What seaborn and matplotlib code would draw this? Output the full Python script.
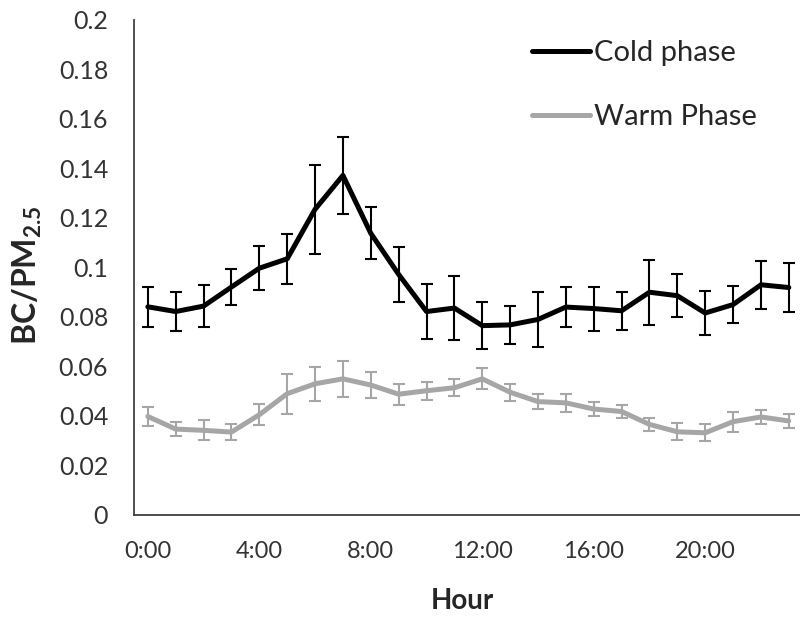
import matplotlib
matplotlib.use("Agg")
import matplotlib.pyplot as plt
import matplotlib.ticker as mticker
import numpy as np
import pandas as pd
import seaborn as sns

# hourly BC/PM2.5 ratio (mean and half-width of error bar)
hours = list(range(24))
cold_mean = [0.0841, 0.0822, 0.0844, 0.0921, 0.0997, 0.1035, 0.1235, 0.1372,
             0.1138, 0.0972, 0.0822, 0.0836, 0.0765, 0.0768, 0.0790, 0.0840,
             0.0834, 0.0825, 0.0900, 0.0886, 0.0816, 0.0850, 0.0930, 0.0919]
cold_err = [0.0080, 0.0077, 0.0084, 0.0073, 0.0088, 0.0102, 0.0180, 0.0157,
            0.0105, 0.0110, 0.0113, 0.0130, 0.0094, 0.0078, 0.0110, 0.0081,
            0.0089, 0.0076, 0.0132, 0.0087, 0.0090, 0.0075, 0.0096, 0.0098]
warm_mean = [0.0398, 0.0347, 0.0342, 0.0335, 0.0405, 0.0490, 0.0530, 0.0550,
             0.0525, 0.0488, 0.0502, 0.0514, 0.0550, 0.0496, 0.0458, 0.0453,
             0.0428, 0.0418, 0.0366, 0.0336, 0.0332, 0.0377, 0.0396, 0.0380]
warm_err = [0.0040, 0.0027, 0.0040, 0.0033, 0.0042, 0.0080, 0.0069, 0.0074,
            0.0054, 0.0042, 0.0037, 0.0034, 0.0043, 0.0035, 0.0030, 0.0035,
            0.0030, 0.0026, 0.0025, 0.0034, 0.0034, 0.0040, 0.0030, 0.0030]
phase_names = ["Cold phase", "Warm Phase"]
phase_colors = ["#000000", "#a6a6a6"]
hour_labels = ["0:00", "4:00", "8:00", "12:00", "16:00", "20:00"]
hour_label_pos = [0, 4, 8, 12, 16, 20]
y_ticks = [0, 0.02, 0.04, 0.06, 0.08, 0.1, 0.12, 0.14, 0.16, 0.18, 0.2]

sns.set_style("white")
plt.rcParams["font.family"] = ["Lato", "DejaVu Sans"]

df = pd.DataFrame({
    "hour": hours * 2,
    "ratio": cold_mean + warm_mean,
    "phase": [phase_names[0]] * 24 + [phase_names[1]] * 24,
})

fig = plt.figure(figsize=(8, 6.18), dpi=100)
ax = fig.add_axes([0.1674, 0.1667, 0.8360, 0.8010])

sns.lineplot(data=df, x="hour", y="ratio", hue="phase", hue_order=phase_names,
             palette=phase_colors, linewidth=3.6, ax=ax, legend=True)
for line in ax.get_lines():
    line.set_solid_joinstyle("round")
    line.set_solid_capstyle("round")

for mean, err, col in [(cold_mean, cold_err, phase_colors[0]),
                       (warm_mean, warm_err, phase_colors[1])]:
    ax.errorbar(hours, mean, yerr=err, fmt="none", ecolor=col,
                elinewidth=1.5, capsize=4.3, capthick=1.5, zorder=3)

ax.set_xlim(-0.5, 23.5)
ax.set_ylim(0, 0.2)
ax.set_xticks(hour_label_pos)
ax.set_xticklabels(hour_labels)
ax.xaxis.set_minor_locator(mticker.FixedLocator(np.arange(-0.5, 24, 1)))
ax.tick_params(axis="x", which="major", length=0, pad=18.5,
               labelsize=17, labelcolor="#333333")
ax.tick_params(axis="x", which="minor", length=7, width=1.1,
               color="#404040", direction="out")
ax.set_yticks(y_ticks)
ax.yaxis.set_major_formatter(mticker.FuncFormatter(lambda v, p: f"{v:g}"))
ax.tick_params(axis="y", length=7.5, width=1.1, color="#404040",
               direction="out", pad=11, labelsize=18, labelcolor="#333333")

sns.despine(ax=ax)
for side in ["left", "bottom"]:
    ax.spines[side].set_color("#404040")
    ax.spines[side].set_linewidth(1.3)

ax.set_xlabel("Hour", fontsize=20, fontweight="bold", va="center")
ax.xaxis.set_label_coords(0.4906, -0.173)
ax.set_ylabel("BC/PM$_{\\mathregular{2.5}}$", fontsize=23,
              fontweight="bold", va="center")
ax.yaxis.set_label_coords(-0.160, 0.485)

handles, labels = ax.get_legend_handles_labels()
leg = ax.legend(handles, labels, loc="upper left",
                bbox_to_anchor=(0.6646, 0.9345), bbox_transform=fig.transFigure,
                frameon=False, fontsize=21, handlelength=1.99,
                handletextpad=0.16, labelspacing=1.29, borderpad=0,
                borderaxespad=0)
for h in leg.get_lines():
    h.set_linewidth(3.6)

fig.savefig("out.png", dpi=100)
